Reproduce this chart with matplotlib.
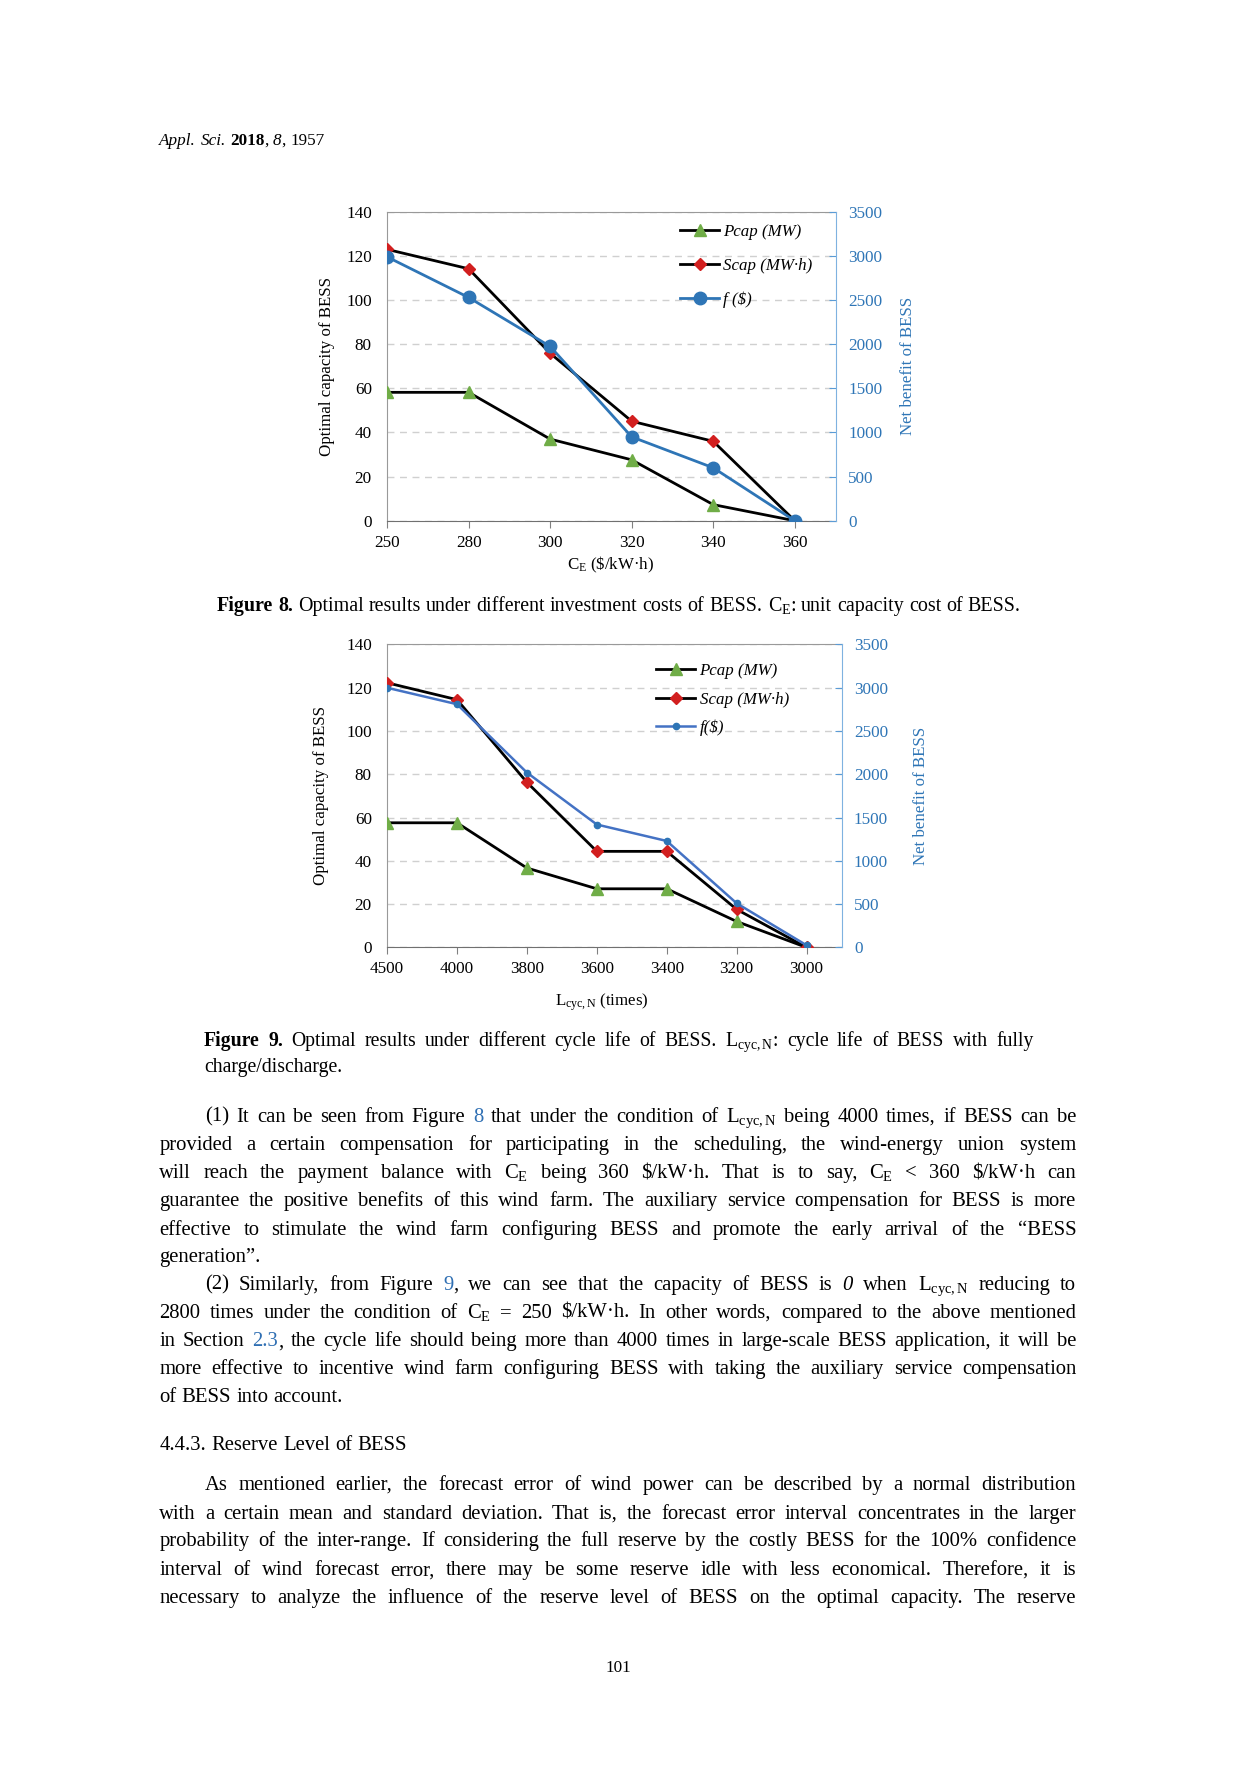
import re
import numpy as np
import matplotlib
matplotlib.use('Agg')
import matplotlib.pyplot as plt
from matplotlib.lines import Line2D

W, H = 1235, 1773
SC = 0.99   # correction for the scale my positions were read at
SERIF = 'Liberation Serif'
plt.rcParams['font.family'] = SERIF
plt.rcParams['mathtext.fontset'] = 'custom'
plt.rcParams['mathtext.rm'] = SERIF
plt.rcParams['mathtext.it'] = SERIF + ':italic'
plt.rcParams['mathtext.bf'] = SERIF + ':bold'

# Figure 8: investment cost
ce_cats = ['250', '280', '300', '320', '340', '360']
ce_pcap = [58.2, 58.2, 37.0, 27.6, 7.3, 0.0]
ce_scap = [123.0, 114.2, 75.9, 45.1, 36.0, 0.0]
ce_f = [2990, 2530, 1975, 950, 600, 0]

# Figure 9: cycle life
lc_cats = ['4500', '4000', '3800', '3600', '3400', '3200', '3000']
lc_pcap = [57.6, 57.6, 36.7, 27.1, 27.1, 12.0, 0.0]
lc_scap = [122.3, 114.5, 76.3, 44.4, 44.4, 17.6, 0.0]
lc_f = [3000, 2810, 2020, 1420, 1230, 510, 25]

cap_ticks = list(range(0, 141, 20))
ben_ticks = list(range(0, 3501, 500))

GREEN = '#70AD47'
RED = '#D21F1F'
BLUE = '#2E75B6'
BLUE2 = '#4472C4'
LINK = '#2F6FB3'

fig = plt.figure(figsize=(W / 100, H / 100), dpi=100)
fig.patch.set_facecolor('white')


def fx(x):
    return x * SC / W


def fy(y):
    return 1 - y * SC / H


def rect(l, t, r, b):
    return [fx(l), fy(b), fx(r) - fx(l), fy(t) - fy(b)]


def chart(box, cats, pcap, scap, fval, xlabel, fstyle, flabel, leg_xy, leg_gap, ylab_x):
    ax = fig.add_axes(rect(*box))
    xs = np.arange(len(cats))
    ax.plot(xs, pcap, color='black', lw=2, marker='^', ms=8,
            mfc=GREEN, mec=GREEN, zorder=3)
    ax.plot(xs, scap, color='black', lw=2, marker='D', ms=6,
            mfc=RED, mec=RED, zorder=3)
    ax.set_xlim(0, len(cats) - 0.5)
    ax.set_ylim(0, 140)
    ax.set_yticks(cap_ticks)
    ax.set_xticks(xs)
    ax.set_xticklabels(cats)
    ax.yaxis.grid(True, ls=(0, (5, 4)), color='#d0d0d0', lw=1)
    ax.set_axisbelow(True)
    ax.tick_params(axis='y', length=0, labelsize=12.3, pad=11)
    ax.tick_params(axis='x', length=5, color='#808080', labelsize=12.3, pad=5)
    for s in ['left', 'top']:
        ax.spines[s].set_color('#999999')
    ax.spines['bottom'].set_color('#707070')
    ax.spines['right'].set_visible(False)

    ax2 = ax.twinx()
    ax2.plot(xs, fval, **fstyle, zorder=4)
    ax2.set_ylim(0, 3500)
    ax2.set_yticks(ben_ticks)
    ax2.tick_params(axis='y', direction='in', length=5, color='#5B9BD5',
                    labelcolor=BLUE, labelsize=12.3, pad=9)
    ax2.spines['right'].set_color('#7FB2E0')
    for s in ['left', 'top', 'bottom']:
        ax2.spines[s].set_visible(False)

    ymid = (box[1] + box[3]) / 2
    fig.text(fx(ylab_x[0]), fy(ymid), 'Optimal capacity of BESS',
             rotation=90, ha='center', va='center', fontsize=12.2)
    fig.text(fx(ylab_x[1]), fy(ymid), 'Net benefit of BESS',
             rotation=90, ha='center', va='center', fontsize=12.2, color=BLUE)
    fig.text(fx(xlabel[1][0]), fy(xlabel[1][1]), xlabel[0],
             ha='center', va='center', fontsize=12.2)

    handles = [
        Line2D([], [], color='black', lw=2, marker='^', ms=8, mfc=GREEN, mec=GREEN),
        Line2D([], [], color='black', lw=2, marker='D', ms=6, mfc=RED, mec=RED),
        Line2D([], [], **fstyle),
    ]
    labels = ['Pcap (MW)', 'Scap (MW·h)', flabel]
    ax2.legend(handles, labels, loc='upper left',
               bbox_to_anchor=(fx(leg_xy[0]), fy(leg_xy[1])),
               bbox_transform=fig.transFigure, frameon=False,
               borderpad=0, borderaxespad=0, handlelength=2.3,
               handletextpad=0.25, labelspacing=leg_gap,
               prop={'family': SERIF, 'style': 'italic', 'size': 12.2})
    return ax, ax2


f8_style = dict(color=BLUE, lw=2, marker='o', ms=9, mfc=BLUE, mec=BLUE)
chart((391, 214, 844, 526), ce_cats, ce_pcap, ce_scap, ce_f,
      (r'C$_\mathrm{E}$ (\$/kW·h)', (617, 571)), f8_style, 'f ($)',
      (687, 226), 1.05, (330, 917))

f9_style = dict(color=BLUE2, lw=1.8, marker='o', ms=4.5, mfc=BLUE, mec=BLUE)
chart((391, 651, 850, 957), lc_cats, lc_pcap, lc_scap, lc_f,
      (r'L$_\mathrm{cyc,N}$ (times)', (608, 1012)), f9_style, 'f($)',
      (663, 670), 0.72, (324, 930))

# page text
SEG = re.compile(r'(@[^@]*@|~[^~]*~|\*[^*]*\*)')


def segments(word):
    out = []
    for part in SEG.split(word):
        if not part:
            continue
        if part[0] == '@' and part[-1] == '@' and len(part) > 1:
            out.append((part[1:-1], {'color': LINK}))
        elif part[0] == '~' and part[-1] == '~' and len(part) > 1:
            out.append((part[1:-1], {'style': 'italic'}))
        elif part[0] == '*' and part[-1] == '*' and len(part) > 1:
            out.append((part[1:-1], {'weight': 'bold'}))
        else:
            out.append((part, {}))
    return out


renderer = fig.canvas.get_renderer()


def put_line(line, y, x0, x1=None, size=15, cx=None):
    items = []
    for w in line.split(' '):
        parts, widths = [], []
        for txt, st in segments(w):
            t = fig.text(0, 0, txt, fontsize=size, va='baseline', ha='left', **st)
            parts.append(t)
            widths.append(t.get_window_extent(renderer).width / SC)
        items.append((parts, widths))
    total = sum(sum(wd) for _, wd in items)
    space = size * 100 / 72 * 0.25 / SC
    if x1 is not None and len(items) > 1:
        space = (x1 - x0 - total) / (len(items) - 1)
    if cx is not None:
        x0 = cx - (total + space * (len(items) - 1)) / 2
    x = x0
    for parts, widths in items:
        for p, wd in zip(parts, widths):
            p.set_position((fx(x), fy(y)))
            x += wd
        x += space


LM, RM = 161, 1087
BODY = 14.9

put_line('~Appl.~ ~Sci.~ *2018*, ~8~, 1957', 146, LM, size=12.3)

put_line(r'*Figure* *8.* Optimal results under different investment costs of BESS. '
         r'C$_\mathrm{E}$: unit capacity cost of BESS.', 617, 0, size=14.45, cx=625)
put_line(r'*Figure* *9.* Optimal results under different cycle life of BESS. '
         r'L$_\mathrm{cyc,N}$: cycle life of BESS with fully', 1057, 206, 1044, size=14.2)
put_line('charge/discharge.', 1083, 206, size=14.2)

para1 = [
    r'(1) It can be seen from Figure @8@ that under the condition of L$_\mathrm{cyc,N}$ being 4000 times, if BESS can be',
    'provided a certain compensation for participating in the scheduling, the wind-energy union system',
    r'will reach the payment balance with C$_\mathrm{E}$ being 360 $/kW·h. That is to say, C$_\mathrm{E}$ < 360 $/kW·h can',
    'guarantee the positive benefits of this wind farm. The auxiliary service compensation for BESS is more',
    'effective to stimulate the wind farm configuring BESS and promote the early arrival of the \u201cBESS',
    'generation\u201d.',
    r'(2) Similarly, from Figure @9@, we can see that the capacity of BESS is ~0~ when L$_\mathrm{cyc,N}$ reducing to',
    r'2800 times under the condition of C$_\mathrm{E}$ = 250 $/kW·h. In other words, compared to the above mentioned',
    'in Section @2.3@, the cycle life should being more than 4000 times in large-scale BESS application, it will be',
    'more effective to incentive wind farm configuring BESS with taking the auxiliary service compensation',
    'of BESS into account.',
]
para1_y = [1127, 1156, 1184, 1212, 1241, 1269, 1297, 1325, 1354, 1382, 1410]
indent = {0, 6}
last = {5, 10}
for i, (ln, y) in enumerate(zip(para1, para1_y)):
    x0 = LM + 46 if i in indent else LM
    put_line(ln, y + 6, x0, None if i in last else RM, size=BODY)

put_line('4.4.3. Reserve Level of BESS', 1465, LM, size=BODY)

para2 = [
    'As mentioned earlier, the forecast error of wind power can be described by a normal distribution',
    'with a certain mean and standard deviation. That is, the forecast error interval concentrates in the larger',
    'probability of the inter-range. If considering the full reserve by the costly BESS for the 100% confidence',
    'interval of wind forecast error, there may be some reserve idle with less economical. Therefore, it is',
    'necessary to analyze the influence of the reserve level of BESS on the optimal capacity. The reserve',
]
para2_y = [1499, 1528, 1556, 1585, 1613]
for i, (ln, y) in enumerate(zip(para2, para2_y)):
    put_line(ln, y + 6, LM + 46 if i == 0 else LM, RM, size=BODY)

put_line('101', 1689, 0, size=12.3, cx=625)

fig.savefig('out.png', dpi=100, facecolor='white')
